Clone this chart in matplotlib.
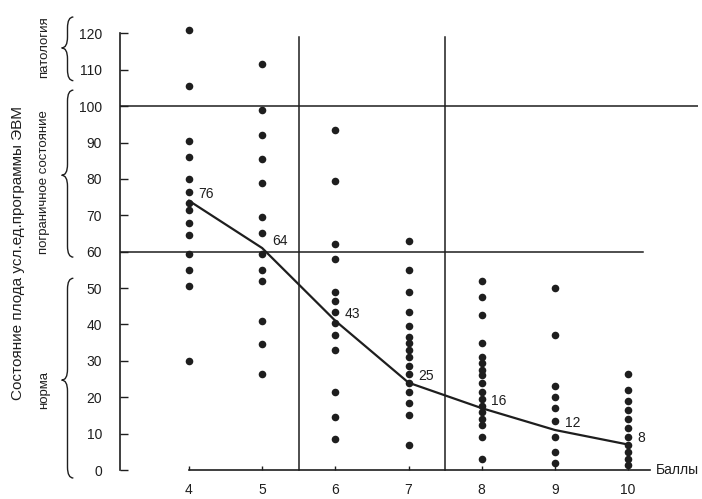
import numpy as np
import matplotlib
matplotlib.use("Agg")
from matplotlib import pyplot as plt
from matplotlib.path import Path
from matplotlib.patches import PathPatch

plt.rcParams['font.family'] = ['Liberation Sans', 'DejaVu Sans']

# Scores (x) and the individual values
scores = [4, 5, 6, 7, 8, 9, 10]
col4 = [121, 105.5, 90.5, 86, 80, 76.5, 73.5, 71.5, 68, 64.5, 59.5, 55, 50.5, 30]
col5 = [111.5, 99, 92, 85.5, 79, 69.5, 65, 59.5, 55, 52, 41, 34.5, 26.5]
col6 = [93.5, 79.5, 62, 58, 49, 46.5, 43.5, 40.5, 37, 33, 21.5, 14.5, 8.5]
col7 = [63, 55, 49, 43.5, 39.5, 36.5, 35, 33, 31, 28.5, 26.5, 24, 21.5, 18.5, 15, 7]
col8 = [52, 47.5, 42.5, 35, 31, 29.5, 27.5, 26, 24, 21.5, 19.5, 17.5, 16, 14, 12.5, 9, 3]
col9 = [50, 37, 23, 20, 17, 13.5, 9, 5, 2]
col10 = [26.5, 22, 19, 16.5, 14, 11.5, 9, 7, 5, 3, 1.5]
columns = [col4, col5, col6, col7, col8, col9, col10]

# mean curve as drawn, and the printed mean labels
curve = [74, 61, 41, 24, 17, 11, 7]
mean_labels = ["76", "64", "43", "25", "16", "12", "8"]

# zone boundaries
h_limits = [100, 60]
v_limits = [5.5, 7.5]

yticks = list(range(0, 121, 10))

fig = plt.figure(figsize=(7.02, 4.99), dpi=100)
ax = fig.add_axes([0.1709, 0.0289, 0.8229, 0.948])
ax.set_xlim(3.057, 10.95)
ax.set_ylim(-4, 126)

ink = '#1e1e1e'

# zone lines
ax.plot([3.057, 10.95], [h_limits[0]] * 2, color=ink, lw=1.1)
ax.plot([3.057, 10.2], [h_limits[1]] * 2, color=ink, lw=1.1)
for xv in v_limits:
    ax.plot([xv, xv], [0, 119], color=ink, lw=1.1)

# points
for s, col in zip(scores, columns):
    ax.scatter([s] * len(col), col, s=30, color=ink, zorder=3, linewidths=0)

# mean curve
ax.plot(scores, curve, color=ink, lw=1.6, zorder=4)
for s, c, lab in zip(scores, curve, mean_labels):
    ax.annotate(lab, (s, c), xytext=(7, 5), textcoords='offset points',
                ha='left', va='center', fontsize=10, color=ink)

# axes
for side in ['top', 'right']:
    ax.spines[side].set_visible(False)
ax.spines['left'].set_bounds(0, 120)
ax.spines['bottom'].set_position(('data', 0))
ax.spines['bottom'].set_bounds(4, 10.3)
for side in ['left', 'bottom']:
    ax.spines[side].set_linewidth(1.2)
    ax.spines[side].set_color(ink)

ax.set_yticks(yticks)
ax.set_xticks(scores)
ax.tick_params(axis='y', direction='in', length=6, width=1, pad=13,
               labelsize=10, colors=ink)
ax.tick_params(axis='x', direction='in', length=3, width=1, pad=9,
               labelsize=10, colors=ink)
ax.text(10.38, 0, 'Баллы', ha='left', va='center', fontsize=10, color=ink)


def brace(x, y0, y1, ym, w, d):
    # curly brace pointing left, x is its right edge
    xm = x - w / 2
    verts = [(x, y1), (xm, y1), (xm, y1 - d),
             (xm, ym + d),
             (xm, ym), (x - w, ym),
             (xm, ym), (xm, ym - d),
             (xm, y0 + d),
             (xm, y0), (x, y0)]
    codes = [Path.MOVETO, Path.CURVE3, Path.CURVE3,
             Path.LINETO,
             Path.CURVE3, Path.CURVE3,
             Path.CURVE3, Path.CURVE3,
             Path.LINETO,
             Path.CURVE3, Path.CURVE3]
    ax.add_patch(PathPatch(Path(verts, codes), fill=False, lw=1.0,
                           edgecolor=ink, clip_on=False))


brace(2.42, 107, 124.5, 116, 0.16, 3)
brace(2.42, 58.5, 104.4, 81, 0.16, 3)
brace(2.42, -2.2, 52.7, 24.7, 0.16, 3)

fig.text(18 / 702, 1 - 253 / 499, 'Состояние плода усл.ед.программы ЭВМ',
         rotation=90, ha='center', va='center', fontsize=11, color=ink)
fig.text(44 / 702, 1 - 47 / 499, 'патология', rotation=90,
         ha='center', va='center', fontsize=9.5, color=ink)
fig.text(44 / 702, 1 - 182 / 499, 'пограничное состояние', rotation=90,
         ha='center', va='center', fontsize=9.5, color=ink)
fig.text(44 / 702, 1 - 390 / 499, 'норма', rotation=90,
         ha='center', va='center', fontsize=9.5, color=ink)

plt.savefig('out.png', dpi=100)
